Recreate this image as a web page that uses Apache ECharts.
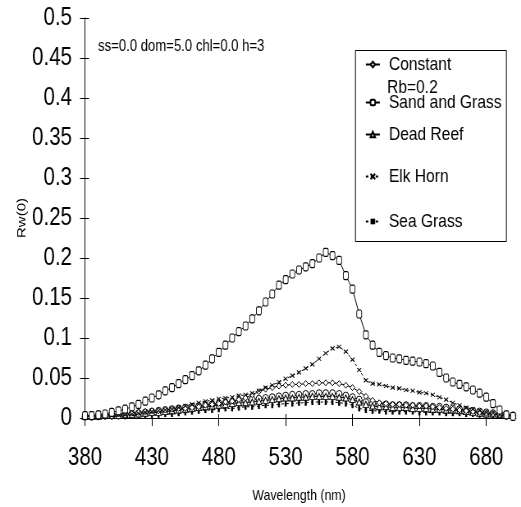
<!DOCTYPE html>
<html>
<head>
<meta charset="utf-8">
<script src="https://cdn.jsdelivr.net/npm/echarts@6/dist/echarts.min.js"></script>
<style>
  html, body { margin: 0; padding: 0; background: #fff; overflow: hidden; }
  /* The chart is laid out on a wider canvas and squeezed horizontally,
     which gives the tall, condensed look of the lettering and markers. */
  #chart { width: 635px; height: 507px; transform: scaleX(0.8205); transform-origin: 0 0; }
</style>
</head>
<body>
<div id="chart"></div>
<script>
// Wavelengths (nm), sampled every 5 nm
const wavelengths = [
  380,385,390,395,400,405,410,415,420,425,430,435,440,
  445,450,455,460,465,470,475,480,485,490,495,500,505,
  510,515,520,525,530,535,540,545,550,555,560,565,570,
  575,580,585,590,595,600,605,610,615,620,625,630,635,
  640,645,650,655,660,665,670,675,680,685,690,695,700
];

// Rw(0) for each bottom type
const constantRb = [
  0.003,0.003,0.004,0.004,0.005,0.005,0.006,0.006,0.007,0.008,0.009,0.009,0.010,
  0.011,0.012,0.012,0.013,0.014,0.016,0.017,0.018,0.020,0.021,0.023,0.025,0.029,
  0.033,0.036,0.038,0.040,0.041,0.042,0.042,0.043,0.043,0.044,0.044,0.044,0.043,
  0.041,0.038,0.033,0.027,0.022,0.019,0.018,0.017,0.017,0.016,0.016,0.015,0.015,
  0.014,0.013,0.012,0.011,0.010,0.009,0.008,0.007,0.006,0.005,0.004,0.004,0.003
];
const sandGrass = [
  0.003,0.003,0.004,0.005,0.007,0.009,0.011,0.014,0.017,0.021,0.025,0.029,0.034,
  0.038,0.043,0.048,0.053,0.059,0.066,0.074,0.082,0.091,0.100,0.108,0.115,0.124,
  0.134,0.145,0.155,0.166,0.173,0.180,0.185,0.189,0.193,0.200,0.207,0.203,0.197,
  0.178,0.161,0.130,0.104,0.091,0.082,0.078,0.075,0.074,0.072,0.071,0.070,0.068,
  0.065,0.057,0.050,0.045,0.042,0.039,0.035,0.031,0.026,0.018,0.010,0.004,0.002
];
const deadReef = [
  0.002,0.002,0.002,0.003,0.003,0.003,0.004,0.004,0.005,0.006,0.007,0.007,0.008,
  0.009,0.010,0.011,0.012,0.013,0.014,0.015,0.016,0.017,0.018,0.019,0.019,0.020,
  0.021,0.022,0.023,0.024,0.025,0.025,0.026,0.026,0.027,0.027,0.027,0.027,0.026,
  0.025,0.023,0.020,0.017,0.015,0.014,0.014,0.013,0.013,0.013,0.012,0.012,0.012,
  0.011,0.011,0.010,0.010,0.009,0.008,0.007,0.006,0.005,0.005,0.004,0.003,0.003
];
const elkHorn = [
  0.002,0.002,0.003,0.003,0.003,0.004,0.004,0.005,0.006,0.007,0.008,0.009,0.010,
  0.011,0.013,0.015,0.017,0.019,0.021,0.022,0.024,0.025,0.026,0.028,0.029,0.031,
  0.034,0.038,0.041,0.045,0.049,0.053,0.057,0.062,0.067,0.074,0.081,0.087,0.089,
  0.083,0.073,0.060,0.047,0.043,0.042,0.040,0.038,0.037,0.035,0.034,0.032,0.031,
  0.029,0.026,0.023,0.019,0.016,0.013,0.011,0.009,0.007,0.006,0.004,0.003,0.002
];
const seaGrass = [
  0.001,0.001,0.001,0.002,0.002,0.002,0.002,0.003,0.003,0.003,0.004,0.004,0.005,
  0.005,0.006,0.007,0.008,0.009,0.010,0.010,0.011,0.012,0.012,0.013,0.014,0.014,
  0.015,0.016,0.016,0.017,0.018,0.018,0.019,0.019,0.020,0.020,0.020,0.020,0.019,
  0.018,0.016,0.012,0.010,0.009,0.009,0.008,0.008,0.008,0.008,0.008,0.007,0.007,
  0.007,0.007,0.006,0.006,0.006,0.005,0.005,0.004,0.004,0.003,0.003,0.002,0.002
];
const series6 = [
  0.002,0.002,0.003,0.003,0.003,0.004,0.004,0.005,0.006,0.007,0.008,0.009,0.010,
  0.011,0.012,0.013,0.014,0.015,0.016,0.017,0.018,0.019,0.020,0.021,0.022,0.023,
  0.024,0.025,0.026,0.027,0.028,0.029,0.029,0.030,0.030,0.031,0.031,0.031,0.030,
  0.028,0.026,0.023,0.020,0.018,0.017,0.017,0.016,0.016,0.016,0.015,0.015,0.015,
  0.014,0.014,0.013,0.012,0.011,0.010,0.009,0.008,0.007,0.006,0.005,0.004,0.003
];

// Tick labels
const xTicks = [380, 430, 480, 530, 580, 630, 680];
const yTicks = [0, 0.05, 0.1, 0.15, 0.2, 0.25, 0.3, 0.35, 0.4, 0.45, 0.5];

const seriesNames = ['Constant', 'Sand and Grass', 'Dead Reef', 'Elk Horn', 'Sea Grass', 'Series 6'];
const constantNote = 'Rb=0.2';
const paramText = 'ss=0.0 dom=5.0 chl=0.0 h=3';
const xTitle = 'Wavelength (nm)';
const yTitle = 'Rw(0)';

const FONT = "'Liberation Sans',Arial,sans-serif";
const SQUEEZE = 0.8205;             // horizontal squeeze applied by CSS
const hx = px => px / SQUEEZE;      // on-screen x distance -> layout x distance

const pairs = vals => wavelengths.map((w, i) => [w, vals[i]]);
const hollow = { color: '#fff', borderColor: '#000', borderWidth: 1 };

function lineSeries(name, vals, symbol, size, opts) {
  return Object.assign({
    name: name,
    type: 'line',
    data: pairs(vals),
    symbol: symbol,
    symbolSize: size,
    showSymbol: true,
    showAllSymbol: true,
    lineStyle: { color: '#000', width: 1 },
    itemStyle: hollow,
    emphasis: { disabled: true },
    z: 3
  }, opts || {});
}

const series = [
  lineSeries(seriesNames[5], series6, 'circle', 7),
  lineSeries(seriesNames[4], seaGrass, 'rect', [2.5, 6],
    { itemStyle: { color: '#000', borderColor: '#000', borderWidth: 0 }, lineStyle: { color: '#000', width: 1, type: [3, 3] } }),
  lineSeries(seriesNames[2], deadReef, 'triangle', [7, 6]),
  lineSeries(seriesNames[0], constantRb, 'diamond', [6, 6]),
  lineSeries(seriesNames[3], elkHorn, 'path://M0,0L10,10M10,0L0,10', [5, 4],
    { lineStyle: { color: '#000', width: 1, type: [3, 3] } }),
  lineSeries(seriesNames[1], sandGrass, 'roundRect', [6, 8])
];

// One legend block per entry so each row sits at its own height
const legendRows = [
  { name: seriesNames[0], top: 55 },
  { name: seriesNames[1], top: 93 },
  { name: seriesNames[2], top: 125 },
  { name: seriesNames[3], top: 167 },
  { name: seriesNames[4], top: 212 }
];
const legends = legendRows.map(r => ({
  data: [r.name],
  left: hx(365),
  top: r.top,
  orient: 'vertical',
  itemWidth: hx(14),
  itemHeight: 7,
  itemGap: 0,
  padding: 0,
  z: 10,
  selectedMode: false,
  textStyle: { fontFamily: FONT, fontSize: 19, color: '#000', padding: [0, 0, 0, 6] }
}));

const axisBase = {
  type: 'value',
  min: 380,
  max: 700,
  splitLine: { show: false },
  gridIndex: 0
};

const option = {
  animation: false,
  backgroundColor: '#fff',
  grid: {
    left: hx(85), right: 635 - hx(513), top: 18, bottom: 89,
    containLabel: false,
    outerBoundsMode: 'none'
  },
  legend: legends,
  xAxis: [
    Object.assign({}, axisBase, {
      position: 'bottom',
      name: xTitle,
      nameLocation: 'middle',
      nameGap: 70,
      nameTextStyle: { fontFamily: FONT, fontSize: 15, color: '#000' },
      axisLine: { show: true, onZero: false, lineStyle: { color: '#000', width: 1 } },
      axisTick: { show: true, length: 8, customValues: xTicks, lineStyle: { color: '#000' } },
      axisLabel: { customValues: xTicks, margin: 28, fontFamily: FONT, fontSize: 25, color: '#000' }
    }),
    Object.assign({}, axisBase, {
      position: 'bottom',
      axisLine: { show: false },
      axisTick: { show: true, inside: true, length: 4, customValues: xTicks, lineStyle: { color: '#000' } },
      axisLabel: { show: false }
    }),
    Object.assign({}, axisBase, {
      position: 'top',
      axisLine: { show: true, lineStyle: { color: '#000', width: 1 } },
      axisTick: { show: false },
      axisLabel: { show: false }
    })
  ],
  yAxis: [
    {
      type: 'value',
      min: 0,
      max: 0.5,
      name: yTitle,
      nameLocation: 'middle',
      nameGap: 69,
      nameMoveOverlap: false,
      nameRotate: 90,
      nameTextStyle: { fontFamily: FONT, fontSize: 15, color: '#000' },
      splitLine: { show: false },
      axisLine: { show: true, onZero: false, lineStyle: { color: '#000', width: 1 } },
      axisTick: { show: true, length: hx(5), customValues: yTicks, lineStyle: { color: '#000' } },
      axisLabel: {
        customValues: yTicks,
        margin: hx(13),
        fontFamily: FONT,
        fontSize: 25,
        color: '#000',
        formatter: v => String(parseFloat(Number(v).toFixed(2)))
      }
    },
    {
      type: 'value',
      min: 0,
      max: 0.5,
      position: 'left',
      splitLine: { show: false },
      axisLine: { show: false },
      axisTick: { show: true, inside: true, length: hx(4), customValues: yTicks, lineStyle: { color: '#000' } },
      axisLabel: { show: false }
    }
  ],
  graphic: [
    {
      type: 'rect',
      left: hx(355), top: 50,
      shape: { width: hx(151), height: 191 },
      style: { fill: '#fff', stroke: '#000', lineWidth: 1 },
      z: 4
    },
    {
      type: 'text',
      left: hx(387), top: 78,
      style: { text: constantNote, font: '19px ' + FONT, fill: '#000' },
      z: 10
    },
    {
      type: 'text',
      left: hx(98), top: 39,
      style: { text: paramText, font: '16px ' + FONT, fill: '#000' },
      z: 10
    }
  ],
  series: series
};

const chart = echarts.init(document.getElementById('chart'), null, { renderer: 'canvas' });
chart.setOption(option);
</script>
</body>
</html>
